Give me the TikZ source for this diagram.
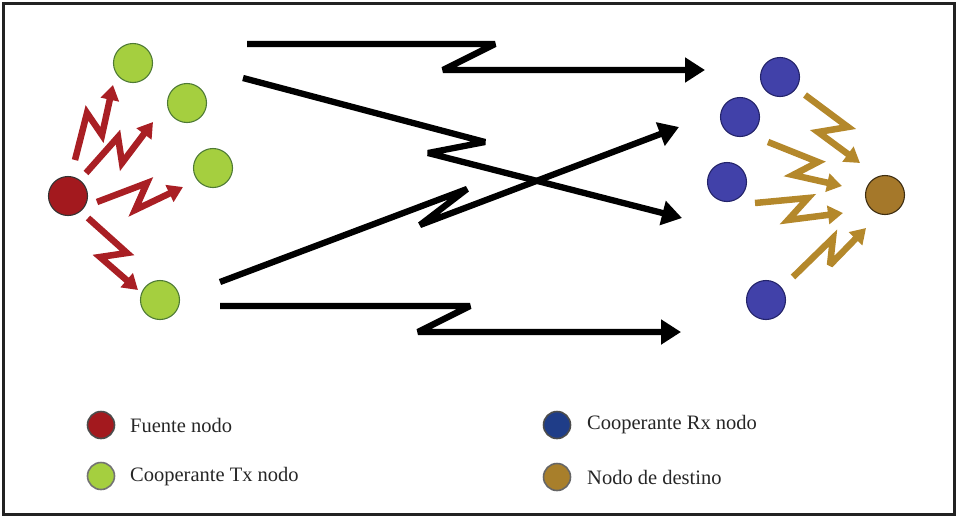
\documentclass[tikz,border=0pt]{standalone}
\usepackage{fontspec}
\setmainfont{Liberation Serif}
\usetikzlibrary{arrows.meta}

\definecolor{srcred}{HTML}{A3191E}
\definecolor{txgreen}{HTML}{A5CF3F}
\definecolor{txedge}{HTML}{4E7A35}
\definecolor{rxblue}{HTML}{4141A9}
\definecolor{rxedge}{HTML}{24246A}
\definecolor{dstbrown}{HTML}{A5782A}
\definecolor{dstedge}{HTML}{3E2E12}
\definecolor{legblue}{HTML}{1F3D88}
\definecolor{legbrown}{HTML}{A87F2B}
\definecolor{redlink}{HTML}{A91F24}
\definecolor{goldlink}{HTML}{B4882B}
\definecolor{frame}{HTML}{222222}

\tikzset{
  dot/.style={circle, inner sep=0pt, minimum size=39pt, line width=1.1pt},
  srcnode/.style={dot, fill=srcred, draw=black!80},
  txnode/.style={dot, fill=txgreen, draw=txedge},
  rxnode/.style={dot, fill=rxblue, draw=rxedge},
  dstnode/.style={dot, fill=dstbrown, draw=dstedge},
  legdot/.style={circle, inner sep=0pt, minimum size=27pt, line width=1.6pt},
  legtext/.style={anchor=west, inner sep=0pt, font=\fontsize{20.5}{24}\selectfont, text=black!85},
  link/.style={line width=6.3pt, line join=miter, miter limit=4, -{Triangle[length=20pt,width=24pt]}},
  redzz/.style={draw=redlink, line width=6.5pt, line join=miter, miter limit=3, -{Triangle[length=15pt,width=18pt]}},
  goldzz/.style={draw=goldlink, line width=6.5pt, line join=miter, miter limit=3, -{Triangle[length=15pt,width=18pt]}},
}

\begin{document}
\begin{tikzpicture}[x=1pt, y=-1pt]
\useasboundingbox (0,0) rectangle (957,517);
\draw[frame, line width=3pt] (3.5,3.5) rectangle (954,514.5);

% source and transmit-side cooperating nodes
\node[srcnode] (src) at (68,196) {};
\node[txnode] (tx1) at (133,63) {};
\node[txnode] (tx2) at (187,103) {};
\node[txnode] (tx3) at (213,168) {};
\node[txnode] (tx4) at (160,300) {};

% receive-side cooperating nodes and destination
\node[rxnode] (rx1) at (780,77) {};
\node[rxnode] (rx2) at (740,117) {};
\node[rxnode] (rx3) at (727,182) {};
\node[rxnode] (rx4) at (766,300) {};
\node[dstnode] (dst) at (885,195) {};

% end points of the long-range links
\coordinate (l1s) at (247,44);  \coordinate (l1e) at (705,70);
\coordinate (l2s) at (243,78);  \coordinate (l2e) at (682,218);
\coordinate (l3s) at (220,282); \coordinate (l3e) at (679,127);
\coordinate (l4s) at (220,306); \coordinate (l4e) at (681,332);

\draw[link] (l1s) -- (495,44) -- (443,70) -- (l1e);
\draw[link] (l2s) -- (485,142) -- (428,153) -- (l2e);
\draw[link] (l3s) -- (467,189) -- (420,225) -- (l3e);
\draw[link] (l4s) -- (470,306) -- (418,332) -- (l4e);

% source to transmit-side nodes
\draw[redzz] (75,160) -- (87,113) -- (102,135) -- (113,85);
\draw[redzz] (86,173) -- (118,137) -- (122,163) -- (153,122);
\draw[redzz] (97,202) -- (147,183) -- (135,210) -- (183,187);
\draw[redzz] (88,218) -- (127,253) -- (100,257) -- (138,290);

% receive-side nodes to destination
\draw[goldzz] (805,95) -- (848,127) -- (818,132) -- (860,163);
\draw[goldzz] (768,142) -- (818,162) -- (793,175) -- (842,186);
\draw[goldzz] (755,203) -- (808,198) -- (788,220) -- (843,213);
\draw[goldzz] (793,277) -- (833,238) -- (830,265) -- (866,228);

% legend
\node[legdot, fill=srcred, draw=black!70] (kSrc) at (101,425) {};
\node[legtext] (tSrc) at (130,425) {Fuente nodo};
\node[legdot, fill=txgreen, draw=black!55] (kTx) at (101,476) {};
\node[legtext] (tTx) at (130,477) {Cooperante Tx nodo};
\node[legdot, fill=legblue, draw=black!70] (kRx) at (557,425) {};
\node[legtext] (tRx) at (587,425) {Cooperante Rx nodo};
\node[legdot, fill=legbrown, draw=black!60] (kDst) at (557,477) {};
\node[legtext] (tDst) at (587,477) {Nodo de destino};
\end{tikzpicture}
\end{document}
